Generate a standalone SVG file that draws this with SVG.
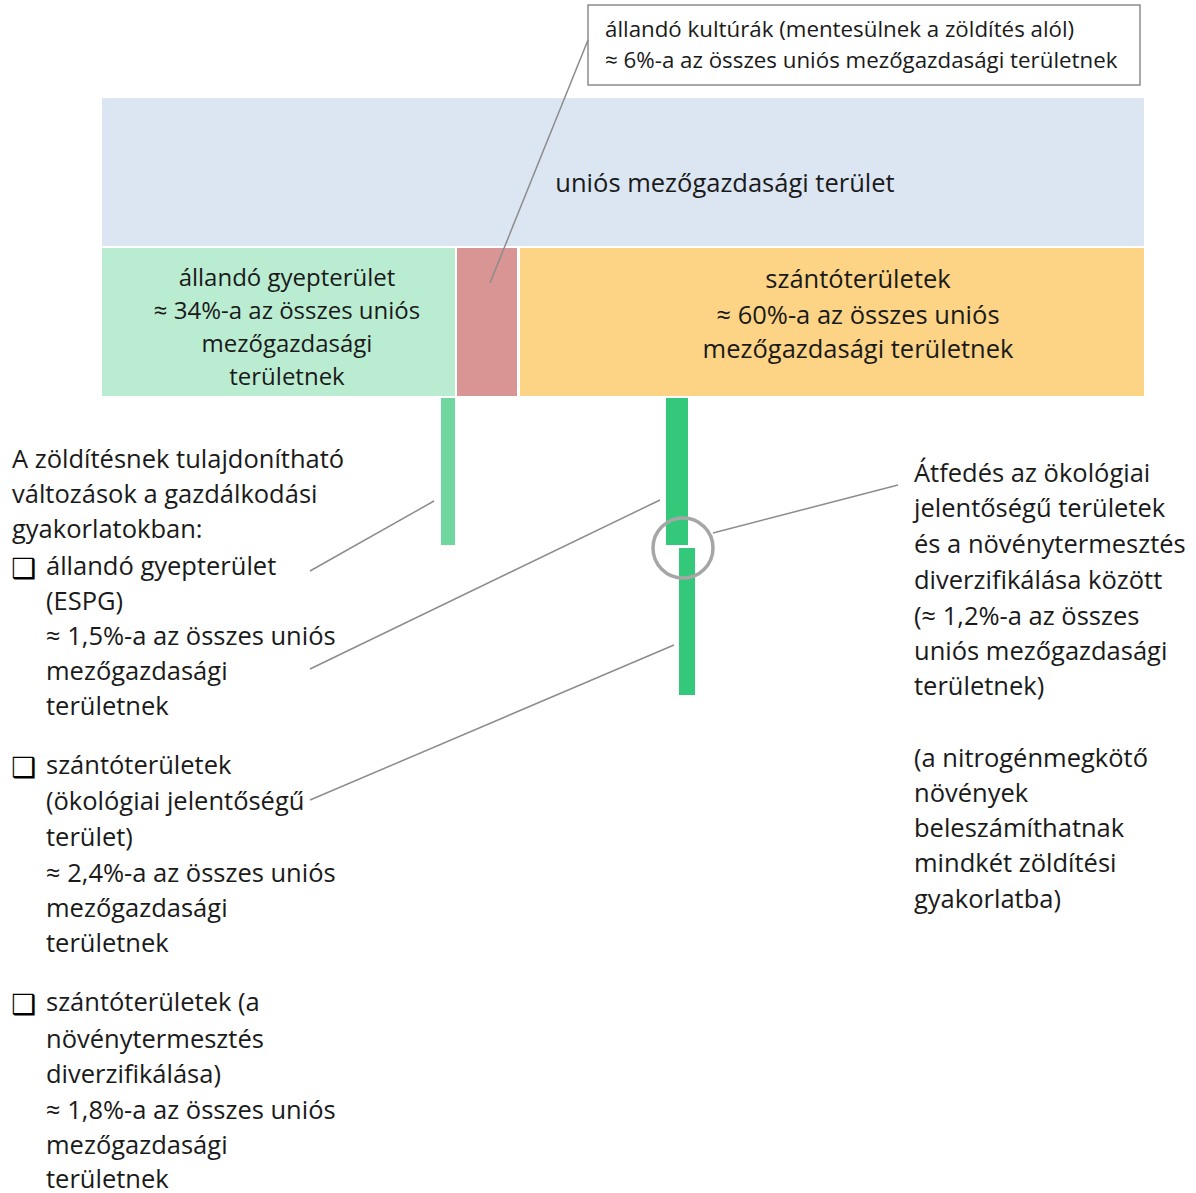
<svg xmlns="http://www.w3.org/2000/svg" width="1196" height="1193" viewBox="0 0 1196 1193">
<style>
text{font-family:"Open Sans","Liberation Sans",sans-serif;fill:#1a1a1a;}
.t22{font-size:25.5px;}
.t24{font-size:24px;}
.t21{font-size:22.3px;}
.c{text-anchor:middle;}
.conn{stroke:#8c8c8c;stroke-width:1.5;fill:none;}
.box{font-family:"DejaVu Sans",sans-serif;font-size:28px;fill:#000;}
</style>
<rect width="1196" height="1193" fill="#ffffff"/>
<g id="eu-area">
<rect x="102" y="98" width="1042" height="148" fill="#dce6f2"/>
<text class="t22 c" x="725" y="192">uniós mezőgazdasági terület</text>
</g>
<g id="grassland">
<rect x="102" y="248" width="353" height="148" fill="#baecd2"/>
<text class="t24 c" x="287" y="286">állandó gyepterület</text>
<text class="t24 c" x="287" y="319">≈ 34%-a az összes uniós</text>
<text class="t24 c" x="287" y="352">mezőgazdasági</text>
<text class="t24 c" x="287" y="385">területnek</text>
</g>
<g id="permanent-crops">
<rect x="457" y="248" width="60" height="148" fill="#d99594"/>
</g>
<g id="arable">
<rect x="520" y="248" width="624" height="148" fill="#fdd486"/>
<text class="t22 c" x="858" y="288">szántóterületek</text>
<text class="t22 c" x="858" y="324">≈ 60%-a az összes uniós</text>
<text class="t22 c" x="858" y="358">mezőgazdasági területnek</text>
</g>
<g id="bar-espg"><rect x="441" y="398" width="14" height="147" fill="#70d69f"/></g>
<g id="bar-efa"><rect x="666" y="398" width="22" height="147" fill="#33c87a"/></g>
<g id="bar-div"><rect x="679" y="548" width="16" height="147" fill="#33c87a"/></g>
<g id="overlap-circle"><circle cx="683" cy="548" r="30" fill="none" stroke="#a6a6a6" stroke-width="3.5"/></g>
<g id="callout">
<rect x="588" y="5" width="552" height="80" fill="#ffffff" stroke="#8c8c8c" stroke-width="1.5"/>
<text class="t21" x="605" y="37">állandó kultúrák (mentesülnek a zöldítés alól)</text>
<text class="t21" x="605" y="68">≈ 6%-a az összes uniós mezőgazdasági területnek</text>
</g>
<g id="connectors">
<line class="conn" x1="588" y1="40" x2="490" y2="283"/>
<line class="conn" x1="310" y1="571" x2="434" y2="501"/>
<line class="conn" x1="310" y1="669" x2="660" y2="500"/>
<line class="conn" x1="310" y1="800" x2="674" y2="645"/>
<line class="conn" x1="713" y1="533" x2="898" y2="485"/>
</g>
<g id="left-text">
<text class="t22" x="12" y="468">A zöldítésnek tulajdonítható</text>
<text class="t22" x="12" y="503">változások a gazdálkodási</text>
<text class="t22" x="12" y="538">gyakorlatokban:</text>
<text class="box" x="11" y="578">❑</text>
<text class="t22" x="46" y="575">állandó gyepterület</text>
<text class="t22" x="46" y="610">(ESPG)</text>
<text class="t22" x="46" y="645">≈ 1,5%-a az összes uniós</text>
<text class="t22" x="46" y="680">mezőgazdasági</text>
<text class="t22" x="46" y="715">területnek</text>
<text class="box" x="11" y="777">❑</text>
<text class="t22" x="46" y="774">szántóterületek</text>
<text class="t22" x="46" y="810">(ökológiai jelentőségű</text>
<text class="t22" x="46" y="846">terület)</text>
<text class="t22" x="46" y="882">≈ 2,4%-a az összes uniós</text>
<text class="t22" x="46" y="917">mezőgazdasági</text>
<text class="t22" x="46" y="952">területnek</text>
<text class="box" x="11" y="1014">❑</text>
<text class="t22" x="46" y="1011">szántóterületek (a</text>
<text class="t22" x="46" y="1048">növénytermesztés</text>
<text class="t22" x="46" y="1083">diverzifikálása)</text>
<text class="t22" x="46" y="1119">≈ 1,8%-a az összes uniós</text>
<text class="t22" x="46" y="1154">mezőgazdasági</text>
<text class="t22" x="46" y="1188">területnek</text>
</g>
<g id="right-text">
<text class="t22" x="914" y="482">Átfedés az ökológiai</text>
<text class="t22" x="914" y="517">jelentőségű területek</text>
<text class="t22" x="914" y="553">és a növénytermesztés</text>
<text class="t22" x="914" y="589">diverzifikálása között</text>
<text class="t22" x="914" y="625">(≈ 1,2%-a az összes</text>
<text class="t22" x="914" y="660">uniós mezőgazdasági</text>
<text class="t22" x="914" y="695">területnek)</text>
<text class="t22" x="914" y="767">(a nitrogénmegkötő</text>
<text class="t22" x="914" y="802">növények</text>
<text class="t22" x="914" y="837">beleszámíthatnak</text>
<text class="t22" x="914" y="872">mindkét zöldítési</text>
<text class="t22" x="914" y="908">gyakorlatba)</text>
</g>
</svg>
